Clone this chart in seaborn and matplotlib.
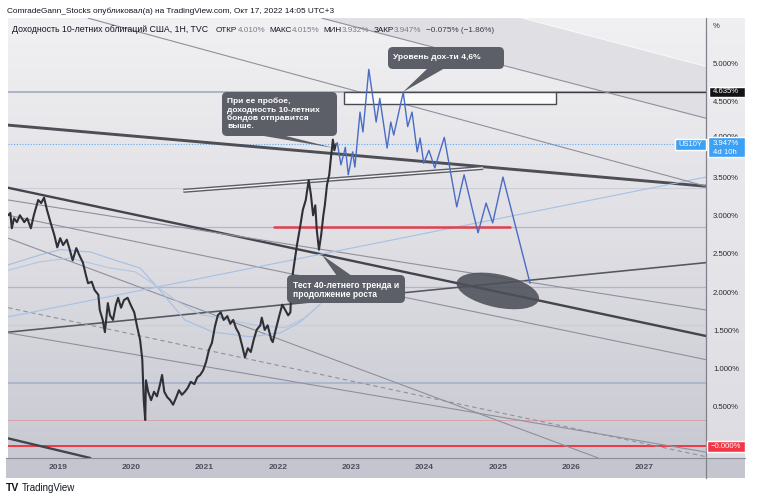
import numpy as np
import pandas as pd
import matplotlib
matplotlib.use("Agg")
import matplotlib.pyplot as plt
import seaborn as sns
from matplotlib.patches import Ellipse, Polygon, Rectangle, FancyBboxPatch
from matplotlib.transforms import Affine2D, IdentityTransform
from matplotlib.colors import LinearSegmentedColormap

W, H = 758, 499

# ---------------- data ----------------
price_t = [2018.32, 2018.35, 2018.37, 2018.40, 2018.44, 2018.48, 2018.54, 2018.58, 2018.63, 2018.67,
           2018.73, 2018.77, 2018.81, 2018.85, 2018.90, 2018.95, 2018.99, 2019.03, 2019.07, 2019.12,
           2019.16, 2019.20, 2019.25, 2019.29, 2019.34, 2019.38, 2019.41, 2019.46, 2019.50, 2019.55,
           2019.57, 2019.61, 2019.64, 2019.68, 2019.71, 2019.75, 2019.79, 2019.82, 2019.86, 2019.90,
           2019.95, 2019.99, 2020.04, 2020.08, 2020.12, 2020.15, 2020.17, 2020.19, 2020.20, 2020.23,
           2020.27, 2020.31, 2020.35, 2020.39, 2020.42, 2020.45, 2020.49, 2020.53, 2020.57, 2020.61,
           2020.65, 2020.69, 2020.73, 2020.77, 2020.81, 2020.86, 2020.90, 2020.94, 2020.98, 2021.02,
           2021.06, 2021.10, 2021.14, 2021.18, 2021.22, 2021.26, 2021.31, 2021.35, 2021.39, 2021.43,
           2021.47, 2021.51, 2021.55, 2021.59, 2021.63, 2021.67, 2021.71, 2021.76, 2021.78, 2021.82,
           2021.86, 2021.91, 2021.93, 2021.97, 2022.02, 2022.06, 2022.10, 2022.14, 2022.17, 2022.19,
           2022.22, 2022.26, 2022.30, 2022.34, 2022.38, 2022.42, 2022.45, 2022.48, 2022.51, 2022.53,
           2022.56, 2022.59, 2022.62, 2022.64, 2022.67, 2022.70, 2022.72, 2022.75, 2022.77, 2022.79]
price_v = [3.02, 3.05, 2.85, 2.98, 2.93, 3.02, 2.93, 2.98, 2.85, 3.02,
           3.22, 3.18, 3.25, 3.09, 2.92, 2.76, 2.60, 2.72, 2.63, 2.70,
           2.57, 2.43, 2.59, 2.50, 2.40, 2.24, 2.13, 2.15, 2.04, 1.98,
           1.78, 1.65, 1.49, 1.87, 1.71, 1.65, 1.85, 1.94, 1.81, 1.91,
           1.94, 1.85, 1.75, 1.56, 1.39, 1.13, 0.60, 0.34, 0.86, 0.71,
           0.60, 0.71, 0.65, 0.80, 0.93, 0.71, 0.64, 0.60, 0.54, 0.63,
           0.73, 0.67, 0.71, 0.76, 0.84, 0.81, 0.90, 0.93, 0.99, 1.10,
           1.26, 1.35, 1.56, 1.71, 1.75, 1.65, 1.70, 1.60, 1.65, 1.54,
           1.47, 1.32, 1.16, 1.28, 1.23, 1.39, 1.52, 1.58, 1.68, 1.52,
           1.58, 1.39, 1.36, 1.52, 1.71, 1.85, 1.78, 1.71, 1.75, 2.17,
           2.37, 2.63, 2.85, 3.09, 3.22, 3.48, 3.29, 3.02, 3.15, 2.83,
           2.57, 2.76, 3.02, 3.15, 3.42, 3.55, 3.74, 4.01, 3.87, 3.95]

proj_t = [2022.79, 2022.81, 2022.86, 2022.92, 2022.96, 2023.02, 2023.05, 2023.12, 2023.16, 2023.24,
          2023.30, 2023.34, 2023.39, 2023.49, 2023.54, 2023.58, 2023.71, 2023.77, 2023.83, 2023.90,
          2023.94, 2023.99, 2024.06, 2024.14, 2024.27, 2024.44, 2024.54, 2024.73, 2024.84, 2024.93,
          2025.07, 2025.44]
proj_v = [3.95, 3.97, 3.68, 3.91, 3.55, 3.85, 3.65, 4.37, 4.11, 4.93,
          4.53, 4.24, 4.55, 3.90, 4.24, 4.07, 4.63, 4.18, 4.37, 3.85,
          4.03, 3.70, 3.87, 3.64, 4.04, 3.13, 3.55, 2.79, 3.18, 2.92,
          3.52, 2.13]

ma1_t = [2018.32, 2018.75, 2019.03, 2019.44, 2019.85, 2020.12, 2020.39, 2020.73, 2021.12, 2021.62, 2022.03, 2022.30, 2022.57]
ma1_v = [2.37, 2.50, 2.57, 2.54, 2.41, 2.33, 2.04, 1.65, 1.49, 1.43, 1.48, 1.62, 1.85]
ma2_t = [2018.32, 2018.75, 2019.16, 2019.71, 2020.05, 2020.26, 2020.60, 2020.94, 2021.35, 2021.76, 2022.10, 2022.37, 2022.64]
ma2_v = [2.30, 2.41, 2.46, 2.33, 2.28, 2.15, 1.91, 1.72, 1.65, 1.57, 1.55, 1.68, 1.91]

# drawn trend lines: start / end (year, %)
trend_t0 = [2018.32, 2018.32, 2018.32, 2020.71, 2018.32, 2018.32, 2018.32, 2018.32, 2018.32, 2018.32, 2018.32, 2019.41, 2022.60]
trend_v0 = [4.20, 3.38, 0.10, 3.34, 1.49, 3.22, 3.02, 2.72, 1.48, 1.81, 1.69, 5.60, 5.60]
trend_t1 = [2027.84, 2027.84, 2019.44, 2024.80, 2027.84, 2027.84, 2027.84, 2026.37, 2027.84, 2027.84, 2027.84, 2027.84, 2027.84]
trend_v1 = [3.40, 1.44, -0.157, 3.64, 2.40, 1.78, 1.13, -0.157, -0.08, -0.14, 3.52, 3.40, 4.29]
trend_kind = ['thick', 'thick2', 'thick2', 'double', 'mid', 'thin', 'thin', 'thin', 'thin', 'dash', 'blue', 'thin', 'thin']

# upper-right channel: lower edge is the last trend line, upper edge below
chan_t = [2025.34, 2027.84]
chan_v = [5.60, 4.97]

hline_v = [4.635, 3.947, 3.38, 2.87, 2.08, 1.58, 0.82, 0.34, 0.0]
hline_kind = ['level', 'last', 'faint', 'blue', 'blue', 'faint', 'blue2', 'redfaint', 'red']

support_t = [2021.95, 2025.17]
support_v = 2.87
zone_t = [2022.90, 2025.79]
zone_v = [4.48, 4.635]
target_t, target_v = 2025.00, 2.03

ytick_vals = [0.5, 1.0, 1.5, 2.0, 2.5, 3.0, 3.5, 4.0, 4.5, 5.0]
year_ticks = [2019, 2020, 2021, 2022, 2023, 2024, 2025, 2026, 2027]
last_value = 3.947
level_value = 4.635

header1 = "ComradeGann_Stocks опубликовал(а) на TradingView.com, Окт 17, 2022 14:05 UTC+3"
header2 = "Доходность 10-летних облигаций США, 1H, TVC"
ohlc_labels = ["ОТКР", "МАКС", "МИН", "ЗАКР"]
ohlc_values = ["4.010%", "4.015%", "3.932%", "3.947%"]
change_text = "−0.075% (−1.86%)"
note_level = "Уровень дох-ти 4,6%"
note_break = ["При ее пробое,", "доходность 10-летних", "бондов отправится", "выше."]
note_test = ["Тест 40-летнего тренда и", "продолжение роста"]

# ---------------- figure ----------------
sns.set_theme(style="white")
plt.rcParams['font.family'] = ['Liberation Sans', 'DejaVu Sans']

fig = plt.figure(figsize=(W / 100, H / 100), dpi=100)
fig.patch.set_facecolor('white')
pix = Affine2D().scale(1 / W, -1 / H).translate(0, 1) + fig.transFigure

XL = (2018.318, 2027.840)
YL = (-0.157, 5.602)

ax = fig.add_axes([8 / W, 41 / H, 698 / W, 440 / H])
ax.set_xlim(*XL)
ax.set_ylim(*YL)
ax.axis('off')
bg = LinearSegmentedColormap.from_list('bg', ['#f1f1f3', '#dfdfe4', '#c8c9d2'])
ax.imshow(np.linspace(0, 1, 256).reshape(-1, 1), cmap=bg, extent=[XL[0], XL[1], YL[0], YL[1]],
          aspect='auto', origin='upper', zorder=0)

# right price-scale band and time band
rax = fig.add_axes([706 / W, 41 / H, 39 / W, 440 / H])
rax.axis('off')
rbg = LinearSegmentedColormap.from_list('rbg', ['#efeff2', '#dcdce2'])
rax.imshow(np.linspace(0, 1, 64).reshape(-1, 1), cmap=rbg, extent=[0, 1, 0, 1], aspect='auto', origin='upper')
xax = fig.add_axes([6 / W, 21 / H, 739 / W, 20 / H])
xax.axis('off')
xax.add_patch(Rectangle((0, 0), 1, 1, transform=xax.transAxes, color='#c4c5cf'))
fig.add_artist(plt.Line2D([706, 706], [18, 478], transform=pix, color='#80818b', lw=0.9, zorder=2))
fig.add_artist(plt.Line2D([6, 745], [458, 458], transform=pix, color='#8c8d97', lw=0.8, zorder=2))

# upper-right channel fill
ax.fill([trend_t0[12], chan_t[0], chan_t[1], trend_t1[12]],
        [trend_v0[12], chan_v[0], chan_v[1], trend_v1[12]],
        color='#e0e0e4', lw=0, zorder=0.5)
ax.plot(chan_t, chan_v, color='#f7f7f9', lw=0.9, zorder=0.6)

# horizontal levels
hstyle = {
    'level': dict(color='#a9b0c6', lw=1.3),
    'last': dict(color='#5fa8ee', lw=0.8, ls=(0, (1, 1.5))),
    'faint': dict(color='#ccced8', lw=0.8),
    'blue': dict(color='#aab6d2', lw=0.9),
    'blue2': dict(color='#a7b1ca', lw=1.2),
    'redfaint': dict(color='#d9a3ab', lw=0.7),
    'red': dict(color='#f23645', lw=1.4),
}
for v, k in zip(hline_v, hline_kind):
    ax.axhline(v, zorder=1, **hstyle[k])
ax.plot([zone_t[1], XL[1]], [level_value, level_value], color='#3a3b42', lw=1.0, zorder=2)

# trend lines
tstyle = {
    'thick': dict(color='#4d4e56', lw=2.1),
    'thick2': dict(color='#43444c', lw=1.7),
    'mid': dict(color='#55565e', lw=1.15),
    'thin': dict(color='#8f909c', lw=0.8),
    'dash': dict(color='#90919c', lw=0.8, ls=(0, (4, 3))),
    'blue': dict(color='#a6c1e4', lw=0.8),
}
for t0, v0, t1, v1, k in zip(trend_t0, trend_v0, trend_t1, trend_v1, trend_kind):
    if k == 'double':
        ax.plot([t0, t1], [v0, v1], color='#5b5c64', lw=3.0, zorder=2, solid_capstyle='butt')
        ax.plot([t0, t1], [v0, v1], color='#f4f4f6', lw=1.0, zorder=2.1, solid_capstyle='butt')
    else:
        ax.plot([t0, t1], [v0, v1], zorder=2, **tstyle[k])

# moving averages
sns.lineplot(x=ma1_t, y=ma1_v, ax=ax, color='#a3bfe2', lw=0.8, sort=False, estimator=None, zorder=2)
sns.lineplot(x=ma2_t, y=ma2_v, ax=ax, color='#b3c6e0', lw=0.8, sort=False, estimator=None, zorder=2)

# support segment and 4.6% zone
ax.plot(support_t, [support_v, support_v], color='#e0414e', lw=1.8, zorder=3)
ax.add_patch(Rectangle((zone_t[0], zone_v[0]), zone_t[1] - zone_t[0], zone_v[1] - zone_v[0],
                       facecolor='#fafafb', edgecolor='#4a4b52', lw=1.0, zorder=3))

# price and projection
sns.lineplot(x=price_t, y=price_v, ax=ax, color='#2f3036', lw=1.5, sort=False, estimator=None, zorder=4)
sns.lineplot(x=proj_t, y=proj_v, ax=ax, color='#4a6cc4', lw=1.0, sort=False, estimator=None, zorder=5)
ax.set_xlim(*XL)
ax.set_ylim(*YL)

# ellipse target
fig.canvas.draw()
R = fig.canvas.get_renderer()
cx, cy = ax.transData.transform((target_t, target_v))
fig.add_artist(Ellipse((cx, cy), 84, 33, angle=-12, transform=IdentityTransform(),
                       facecolor='#4d5059', alpha=0.88, edgecolor='none', zorder=1.5))


def wid(t):
    return t.get_window_extent(R).width


def fit(t, target):
    t.set_fontsize(t.get_fontsize() * target / wid(t))
    return t


# callouts
box_c = '#5c5f68'
def callout(x, y, w, h, tail, lines, tx, ty, dy, ref_line, ref_w):
    fig.add_artist(FancyBboxPatch((x, y), w, h, boxstyle="round,pad=0,rounding_size=5",
                                  transform=pix, facecolor=box_c, edgecolor='none', zorder=6))
    fig.add_artist(Polygon(tail, closed=True, transform=pix, facecolor=box_c, edgecolor='none', zorder=6))
    probe = fig.text(0, 0, lines[ref_line], fontsize=6, fontweight='bold')
    fs = fit(probe, ref_w).get_fontsize()
    probe.remove()
    for i, s in enumerate(lines):
        fig.text(tx, ty + i * dy, s, transform=pix, fontsize=fs, fontweight='bold', color='white',
                 ha='left', va='center', zorder=7)

callout(388, 47, 116, 22, [(428, 68), (445, 68), (403, 92)], [note_level], 393, 57.5, 0, 0, 88)
callout(222, 92, 115, 44, [(258, 135), (282, 135), (334, 148)], note_break, 227, 101.7, 8.4, 1, 93)
callout(287, 275, 118, 28, [(337, 276), (352, 276), (322, 255)], note_test, 293, 285.7, 8.4, 0, 107)

# header
h1 = fig.text(7, 11.5, header1, transform=pix, fontsize=6.5, color='#131722', ha='left', va='center')
fit(h1, 326)
h2 = fig.text(12, 30, header2, transform=pix, fontsize=6.5, color='#131722', ha='left', va='center')
fit(h2, 196)
fs_row = h2.get_fontsize() * 0.93
x = 216.0
for lab, val in zip(ohlc_labels, ohlc_values):
    tl = fig.text(x, 30, lab, transform=pix, fontsize=fs_row, color='#131722', ha='left', va='center')
    x += wid(tl) + 0.4
    tv = fig.text(x, 30, val, transform=pix, fontsize=fs_row, color='#7b7d86', ha='left', va='center')
    x += wid(tv) + 4.0
fig.text(x, 30, change_text, transform=pix, fontsize=fs_row, color='#3b3d45', ha='left', va='center')

# price scale labels
def vy(v):
    return 446 - 76.4 * v
fig.text(713, 27, "%", transform=pix, fontsize=5.6, color='#2a2a30', ha='left', va='center')
for v in ytick_vals:
    fig.text(713, vy(v) + (-3 if v == 4.0 else 0), f"{v:.3f}%", transform=pix, fontsize=5.6,
             color='#2a2a30', ha='left', va='center', zorder=3)
# level label
fig.add_artist(Rectangle((709, vy(level_value) - 5), 36, 10, transform=pix, facecolor='#131316', zorder=4))
fig.text(713, vy(level_value), f"{level_value:.3f}%", transform=pix, fontsize=5.6, color='white',
         ha='left', va='center', zorder=5)
# last price label
fig.add_artist(Rectangle((708, vy(last_value) - 7), 37, 20, transform=pix, facecolor='#3ea0f2', zorder=4))
fig.text(713, vy(last_value) - 0.5, f"{last_value:.3f}%", transform=pix, fontsize=5.6, color='white',
         ha='left', va='center', zorder=5)
fig.text(713, vy(last_value) + 8.5, "4d 10h", transform=pix, fontsize=5.6, color='white',
         ha='left', va='center', zorder=5)
fig.add_artist(Rectangle((675, vy(last_value) - 5.5), 31, 11, transform=pix, facecolor='#3ea0f2', zorder=4))
fig.text(690.5, vy(last_value), "US10Y", transform=pix, fontsize=5.4, color='white',
         ha='center', va='center', zorder=5)
# zero label
fig.add_artist(Rectangle((707, vy(0) - 5), 38, 11, transform=pix, facecolor='#f23645', zorder=4))
fig.text(726, vy(0) + 0.5, "−0.000%", transform=pix, fontsize=5.6, color='white',
         ha='center', va='center', zorder=5)

# time labels
for yr in year_ticks:
    px = 58 + 73.3 * (yr - 2019)
    fig.text(px, 468, str(yr), transform=pix, fontsize=6, fontweight='bold', color='#4c4f5a',
             ha='center', va='center', zorder=3)

# TradingView mark
fig.text(6, 488, "TV", transform=pix, fontsize=7.5, fontweight='heavy', color='#131722',
         ha='left', va='center')
fig.text(22, 488.5, "TradingView", transform=pix, fontsize=7, color='#131722', ha='left', va='center')

fig.savefig("out.png", dpi=100)
